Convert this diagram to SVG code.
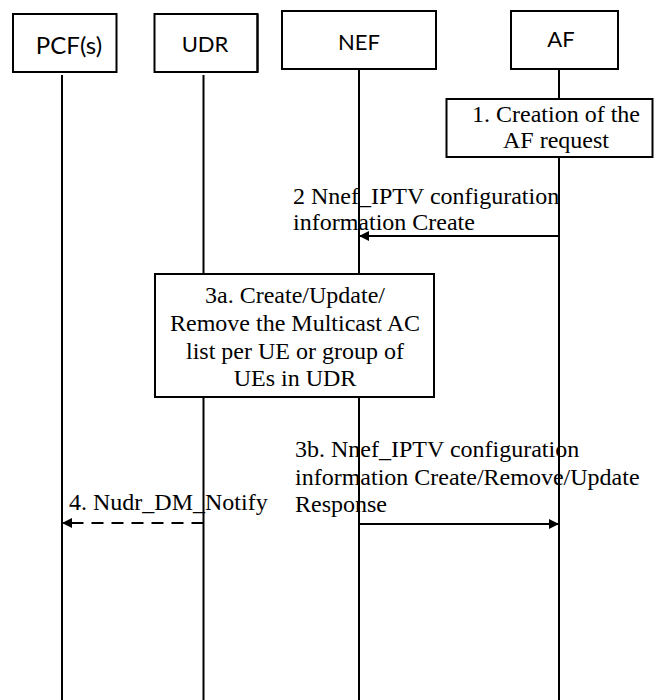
<svg xmlns="http://www.w3.org/2000/svg" width="654" height="700" viewBox="0 0 654 700">
<style>
.box{fill:#fff;stroke:#000;stroke-width:2}
.life{stroke:#000;stroke-width:2;fill:none}
.msg{stroke:#000;stroke-width:2;fill:none}
.dash{stroke-dasharray:12 8}
.hdr{font-family:Lato,"Open Sans","Liberation Sans",sans-serif;font-size:22px;fill:#000;text-anchor:middle}
.lbl{font-family:"Liberation Serif","Times New Roman",serif;font-size:24px;fill:#000}
.mid{text-anchor:middle}
</style>
<defs>
<marker id="ah" viewBox="0 0 10 10" refX="10" refY="5" markerWidth="10" markerHeight="10" markerUnits="userSpaceOnUse" orient="auto">
<path d="M0,0 L10,5 L0,10 z" fill="#000"/>
</marker>
</defs>
<rect width="654" height="700" fill="#fff"/>
<g id="lifelines">
<line class="life" x1="62" y1="75" x2="62" y2="700"/>
<line class="life" x1="203.5" y1="75" x2="203.5" y2="700"/>
<line class="life" x1="359" y1="69" x2="359" y2="700"/>
<line class="life" x1="559" y1="69" x2="559" y2="700"/>
</g>
<g id="pcf">
<rect class="box" x="13" y="14" width="103.5" height="58"/>
<text class="hdr" x="69" y="54" style="font-size:24px">PCF(s)</text>
</g>
<g id="udr">
<rect class="box" x="154.5" y="14" width="103" height="58" stroke-width="1.2"/>
<line x1="257.5" y1="14" x2="257.5" y2="72.6" stroke="#000" stroke-width="2"/>
<text class="hdr" x="205" y="52">UDR</text>
</g>
<g id="nef">
<rect class="box" x="282" y="11" width="154" height="58"/>
<text class="hdr" x="359" y="50">NEF</text>
</g>
<g id="af">
<rect class="box" x="511" y="11" width="107" height="58"/>
<text class="hdr" x="561" y="47">AF</text>
</g>
<g id="step1">
<rect class="box" x="446.5" y="99" width="206" height="58"/>
<text class="lbl mid" x="556" y="122">1. Creation of the</text>
<text class="lbl mid" x="556" y="148">AF request</text>
</g>
<g id="step3a">
<rect class="box" x="155" y="274" width="279" height="123"/>
<text class="lbl mid" x="295" y="303">3a. Create/Update/</text>
<text class="lbl mid" x="295" y="331">Remove the Multicast AC</text>
<text class="lbl mid" x="295" y="358.5">list per UE or group of</text>
<text class="lbl mid" x="295" y="386">UEs in UDR</text>
</g>
<g id="connectors">
<line class="msg" x1="559" y1="236" x2="359" y2="236" marker-end="url(#ah)"/>
<line class="msg" x1="359" y1="524" x2="559" y2="524" marker-end="url(#ah)"/>
<line class="msg dash" x1="203.5" y1="523" x2="62" y2="523" marker-end="url(#ah)"/>
</g>
<g id="labels">
<text class="lbl" x="293" y="204">2 Nnef_IPTV configuration</text>
<text class="lbl" x="293" y="230">information Create</text>
<text class="lbl" x="295" y="456.5">3b. Nnef_IPTV configuration</text>
<text class="lbl" x="295" y="485">information Create/Remove/Update</text>
<text class="lbl" x="295" y="512">Response</text>
<text class="lbl" x="69" y="510">4. Nudr_DM_Notify</text>
</g>
</svg>
